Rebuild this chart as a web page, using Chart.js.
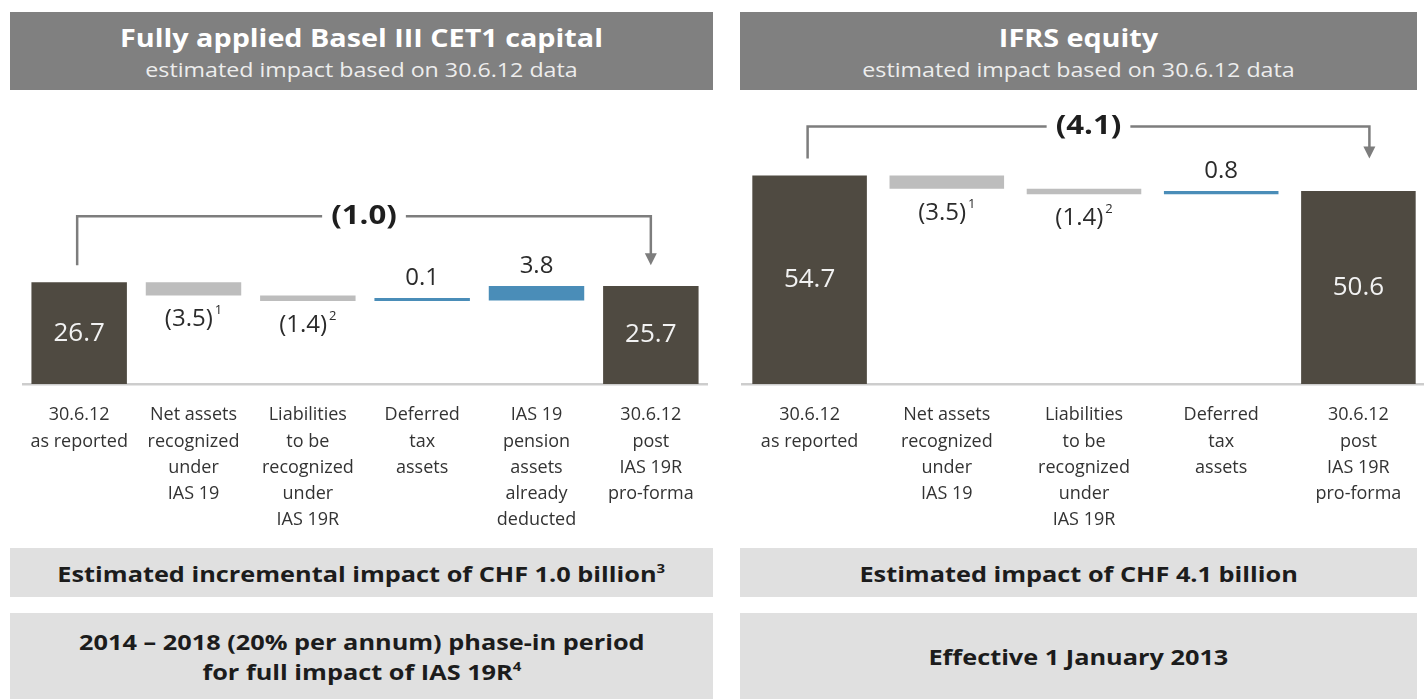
<!DOCTYPE html>
<html>
<head>
<meta charset="utf-8">
<title>IAS 19R impact</title>
<script src="https://cdn.jsdelivr.net/npm/chart.js@4.4.0/dist/chart.umd.min.js"></script>
<style>
  html, body { margin: 0; padding: 0; background: #fff; overflow: hidden; width: 1424px; height: 699px; }
  body { position: relative; font-family: 'Open Sans', sans-serif; }
  .head { position: absolute; top: 12px; height: 78px; background: #808080; color: #fff; text-align: center; }
  .head .t { font-weight: 700; font-size: 25px; line-height: 26px; margin-top: 12px; transform: scaleX(1.15); }
  .head .s { font-size: 20px; line-height: 26px; color: #ededed; margin-top: 7px; transform: scaleX(1.16); }
  .box { position: absolute; background: #e0e0e0; color: #1c1c1c; font-weight: 700; font-size: 22px;
         line-height: 30px; display: flex; align-items: center; justify-content: center; text-align: center; }
  .box span { display: block; transform: scaleX(1.15); }
  .box sup { font-size: 13px; vertical-align: 9px; line-height: 0; }
  .plot { position: absolute; top: 100px; height: 440px; width: 686px; }
</style>
</head>
<body>
  <div class="head" style="left:10px;width:703px">
    <div class="t">Fully applied Basel III CET1 capital</div>
    <div class="s">estimated impact based on 30.6.12 data</div>
  </div>
  <div class="head" style="left:740px;width:677px">
    <div class="t">IFRS equity</div>
    <div class="s">estimated impact based on 30.6.12 data</div>
  </div>

  <div class="plot" style="left:22px"><canvas id="cetChart"></canvas></div>
  <div class="plot" style="left:741px"><canvas id="equityChart"></canvas></div>

  <div class="box" style="left:10px;top:548px;width:703px;height:49px"><span>Estimated incremental impact of CHF 1.0 billion<sup>3</sup></span></div>
  <div class="box" style="left:10px;top:613px;width:703px;height:86px"><span>2014 – 2018 (20% per annum) phase-in period<br>for full impact of IAS 19R<sup>4</sup></span></div>
  <div class="box" style="left:740px;top:548px;width:677px;height:49px"><span>Estimated impact of CHF 4.1 billion</span></div>
  <div class="box" style="left:740px;top:613px;width:677px;height:86px"><span>Effective 1 January 2013</span></div>

<script>
// CET1 capital bridge (CHF bn)
const cetCategories = [
    ['30.6.12', 'as reported'],
    ['Net assets', 'recognized', 'under', 'IAS 19'],
    ['Liabilities', 'to be', 'recognized', 'under', 'IAS 19R'],
    ['Deferred', 'tax', 'assets'],
    ['IAS 19', 'pension', 'assets', 'already', 'deducted'],
    ['30.6.12', 'post', 'IAS 19R', 'pro-forma']
];
const cetStart = 26.7;
const cetSteps = [-3.5, -1.4, 0.1, 3.8];
const cetEnd = 25.7;
const cetNotes = ['', '1', '2', '', '', ''];
const cetChange = -1.0;

// IFRS equity bridge (CHF bn)
const equityCategories = [
    ['30.6.12', 'as reported'],
    ['Net assets', 'recognized', 'under', 'IAS 19'],
    ['Liabilities', 'to be', 'recognized', 'under', 'IAS 19R'],
    ['Deferred', 'tax', 'assets'],
    ['30.6.12', 'post', 'IAS 19R', 'pro-forma']
];
const equityStart = 54.7;
const equitySteps = [-3.5, -1.4, 0.8];
const equityEnd = 50.6;
const equityNotes = ['', '1', '2', '', ''];
const equityChange = -4.1;

const COLOR_TOTAL = '#4f4a41';
const COLOR_DOWN = '#bdbdbd';
const COLOR_UP = '#4a8db8';
const FONT = "'Open Sans', sans-serif";

// turn start / steps / end into floating bar ranges
function buildBridge(start, steps, end) {
    const ranges = [[0, start]];
    const values = [start];
    const colors = [COLOR_TOTAL];
    let level = start;
    steps.forEach(v => {
        ranges.push([level, level + v]);
        values.push(v);
        colors.push(v < 0 ? COLOR_DOWN : COLOR_UP);
        level += v;
    });
    ranges.push([0, end]);
    values.push(end);
    colors.push(COLOR_TOTAL);
    return { ranges, values, colors };
}

function fmt(v) {
    return v < 0 ? '(' + Math.abs(v).toFixed(1) + ')' : v.toFixed(1);
}

// value labels plus the overall change bracket on top
const bridgeLabels = {
    id: 'bridgeLabels',
    afterDatasetsDraw(chart, args, opts) {
        const ctx = chart.ctx;
        const meta = chart.getDatasetMeta(0);
        const values = opts.values;
        const last = meta.data.length - 1;
        ctx.save();
        ctx.textBaseline = 'middle';
        meta.data.forEach((bar, i) => {
            const v = values[i];
            const top = Math.min(bar.y, bar.base);
            const bottom = Math.max(bar.y, bar.base);
            if (i === 0 || i === last) {
                ctx.font = '26px ' + FONT;
                ctx.fillStyle = '#f2f2f2';
                ctx.textAlign = 'center';
                ctx.fillText(v.toFixed(1), bar.x, (top + bottom) / 2);
                return;
            }
            const txt = fmt(v);
            const y = v < 0 ? bottom + 24 : top - 20;
            ctx.font = '24px ' + FONT;
            ctx.fillStyle = '#2b2b2b';
            const note = opts.notes[i];
            const w = ctx.measureText(txt).width;
            ctx.font = '13px ' + FONT;
            const nw = note ? ctx.measureText(note).width + 2 : 0;
            const x0 = bar.x - (w + nw) / 2;
            ctx.textAlign = 'left';
            ctx.font = '24px ' + FONT;
            ctx.fillText(txt, x0, y);
            if (note) {
                ctx.font = '13px ' + FONT;
                ctx.fillText(note, x0 + w + 2, y - 9);
            }
        });

        // bracket from first total to last total
        const first = meta.data[0];
        const end = meta.data[last];
        const firstTop = Math.min(first.y, first.base);
        const yLow = firstTop - 17;
        const yHigh = firstTop - opts.lift;
        const xa = first.x - 2;
        const xb = end.x + opts.arrowShift;
        const label = fmt(opts.change);
        ctx.font = 'bold 26px ' + FONT;
        const lw = ctx.measureText(label).width * 1.2;
        const mid = (xa + xb) / 2;
        ctx.strokeStyle = '#7d7d7d';
        ctx.lineWidth = 2.5;
        ctx.beginPath();
        ctx.moveTo(xa, yLow);
        ctx.lineTo(xa, yHigh);
        ctx.lineTo(mid - lw / 2 - 9, yHigh);
        ctx.moveTo(mid + lw / 2 + 9, yHigh);
        ctx.lineTo(xb, yHigh);
        ctx.lineTo(xb, yLow - 11);
        ctx.stroke();
        ctx.fillStyle = '#7d7d7d';
        ctx.beginPath();
        ctx.moveTo(xb - 6, yLow - 12);
        ctx.lineTo(xb + 6, yLow - 12);
        ctx.lineTo(xb, yLow);
        ctx.closePath();
        ctx.fill();
        ctx.fillStyle = '#1e1e1e';
        ctx.textAlign = 'center';
        ctx.translate(mid, yHigh);
        ctx.scale(1.2, 1);
        ctx.fillText(label, 0, 0);
        ctx.restore();
    }
};

function drawBridge(canvasId, categories, start, steps, end, notes, change, lift, arrowShift) {
    const b = buildBridge(start, steps, end);
    return new Chart(document.getElementById(canvasId), {
        type: 'bar',
        data: {
            labels: categories,
            datasets: [{
                data: b.ranges,
                backgroundColor: b.colors,
                barPercentage: 0.835,
                categoryPercentage: 1,
                minBarLength: 3,
                borderWidth: 0
            }]
        },
        options: {
            responsive: true,
            maintainAspectRatio: false,
            animation: false,
            layout: { padding: 0 },
            plugins: {
                legend: { display: false },
                tooltip: { enabled: false },
                bridgeLabels: { values: b.values, notes, change, lift, arrowShift }
            },
            scales: {
                x: {
                    grid: { display: false, drawTicks: false },
                    border: { display: true, color: '#cdcdcd', width: 2.5 },
                    ticks: {
                        autoSkip: false,
                        maxRotation: 0,
                        padding: 18,
                        color: '#333333',
                        font: { family: FONT, size: 18, lineHeight: 1.46 }
                    },
                    afterFit(scale) {
                        // fixed axis band, no extra side room for the outer labels
                        scale.height = 156;
                        scale.paddingLeft = 0;
                        scale.paddingRight = 0;
                    }
                },
                y: { display: false, min: 0, max: 74.5 }
            }
        },
        plugins: [bridgeLabels]
    });
}

try {
    drawBridge('cetChart', cetCategories, cetStart, cetSteps, cetEnd, cetNotes, cetChange, 66, 0);
    drawBridge('equityChart', equityCategories, equityStart, equitySteps, equityEnd, equityNotes, equityChange, 49, 11);
} catch (e) {
    console.error('Bridge chart error:', e);
}
</script>
</body>
</html>
